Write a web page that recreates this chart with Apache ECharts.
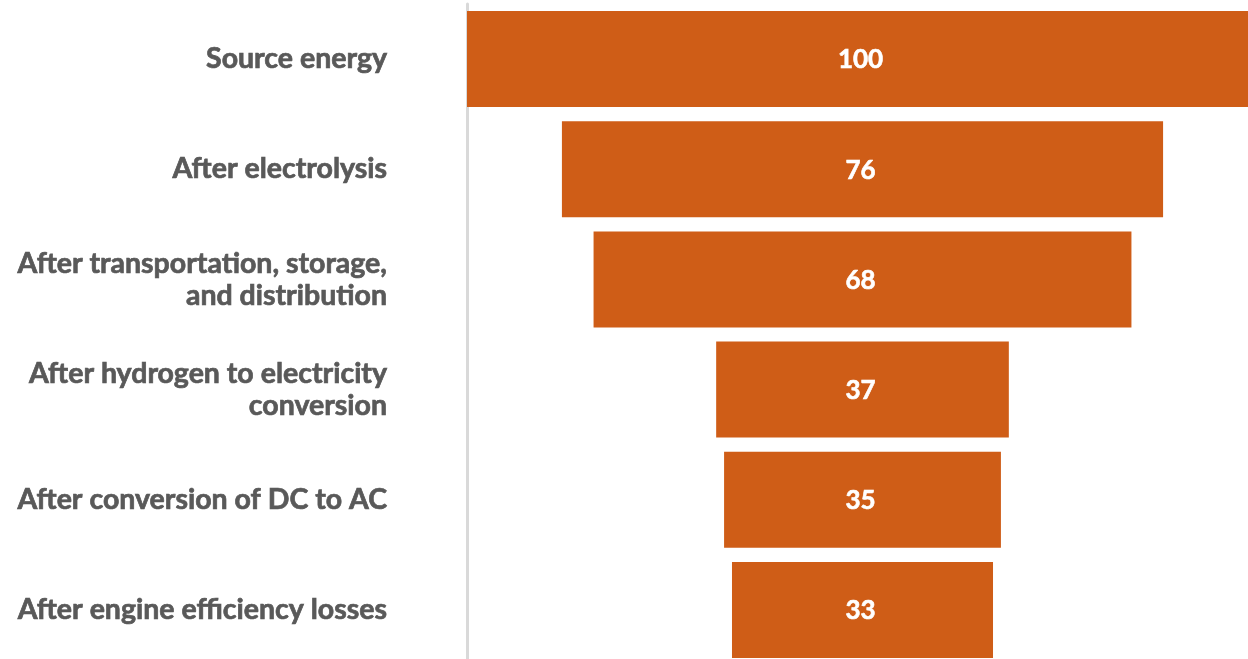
<!DOCTYPE html>
<html><head><meta charset="utf-8">
<script src="https://cdn.jsdelivr.net/npm/echarts@6/dist/echarts.min.js"></script>
<style>html,body{margin:0;padding:0;background:#fff;overflow:hidden}#c{width:1248px;height:659px}</style>
</head><body><div id="c"></div>
<script>
const categories = [
  "Source energy",
  "After electrolysis",
  "After transportation, storage,\nand distribution",
  "After hydrogen to electricity\nconversion",
  "After conversion of DC to AC",
  "After engine efficiency losses"
];
const values = [100, 76, 68, 37, 35, 33];
const maxValue = 100;
const offsets = values.map(v => (maxValue - v) / 2);

const chart = echarts.init(document.getElementById('c'));
chart.setOption({
  animation: false,
  grid: { left: 467, top: 4, width: 791, height: 661, containLabel: false, outerBoundsMode: 'none' },
  xAxis: { type: 'value', min: 0, max: maxValue, show: false },
  yAxis: {
    type: 'category', data: categories, inverse: true,
    axisTick: { show: false },
    axisLine: { show: true, lineStyle: { color: '#d9d9d9', width: 3 } },
    axisLabel: {
      margin: 80, color: '#595959', fontFamily: 'Lato', fontWeight: 'bold',
      fontSize: 28.5, lineHeight: 32, align: 'right',
      textBorderColor: '#595959', textBorderWidth: 0.7
    }
  },
  series: [
    { type: 'bar', stack: 's', data: offsets, itemStyle: { color: 'transparent' },
      barCategoryGap: '12.9%', silent: true },
    { type: 'bar', stack: 's', data: values, barCategoryGap: '12.9%',
      itemStyle: { color: '#cf5d17' },
      label: { show: true, position: 'inside', offset: [-2, 1], color: '#fff', fontFamily: 'Lato',
               fontWeight: 'bold', fontSize: 26, textBorderColor: '#fff', textBorderWidth: 0.6 } }
  ]
});
</script></body></html>
